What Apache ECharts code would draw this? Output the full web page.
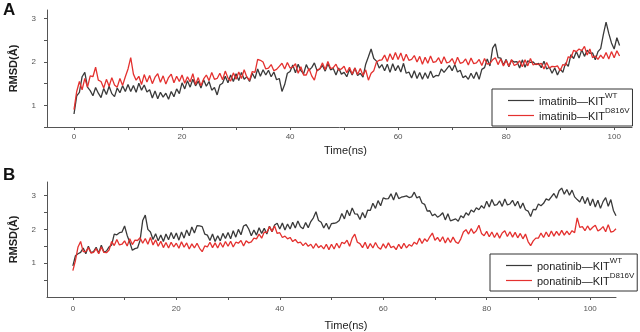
<!DOCTYPE html>
<html>
<head>
<meta charset="utf-8">
<script src="https://cdn.jsdelivr.net/npm/echarts@6/dist/echarts.min.js"></script>
<style>
  html, body { margin: 0; padding: 0; background: #fff; }
  #chart { width: 640px; height: 332px; }
</style>
</head>
<body>
<div id="chart"></div>
<script>
// frame spacing of the trajectories (ns)
const STEP = 0.5

// panel A: imatinib, t = 0 .. 101 ns
const imatinibWT = [
  0.80, 1.22, 1.30, 1.66, 1.76, 1.42, 1.34, 1.22, 1.41, 1.28, 1.18, 1.39, 1.25, 1.44, 1.27, 1.20, 1.40, 1.29, 1.45, 1.32,
  1.48, 1.32, 1.46, 1.30, 1.51, 1.35, 1.47, 1.31, 1.36, 1.17, 1.33, 1.15, 1.30, 1.19, 1.28, 1.14, 1.32, 1.20, 1.38, 1.27,
  1.52, 1.38, 1.57, 1.42, 1.60, 1.45, 1.56, 1.40, 1.59, 1.44, 1.55, 1.35, 1.41, 1.24, 1.47, 1.51, 1.67, 1.52, 1.70, 1.55,
  1.73, 1.57, 1.76, 1.60, 1.66, 1.55, 1.74, 1.62, 1.84, 1.67, 1.82, 1.70, 1.81, 1.66, 1.77, 1.59, 1.62, 1.32, 1.48, 1.74,
  1.78, 1.93, 1.75, 1.95, 1.80, 1.73, 1.94, 1.81, 1.87, 1.98, 1.80, 1.84, 1.92, 1.79, 1.96, 1.82, 1.85, 1.70, 1.86, 1.72,
  1.76, 1.66, 1.83, 1.70, 1.86, 1.69, 1.74, 1.65, 1.95, 2.12, 2.30, 2.08, 2.02, 1.86, 1.94, 1.80, 1.95, 1.76, 1.96, 1.80,
  1.92, 1.77, 1.97, 1.74, 1.77, 1.63, 1.80, 1.62, 1.76, 1.60, 1.75, 1.62, 1.79, 1.64, 1.69, 1.68, 1.84, 1.76, 1.84, 1.92,
  1.80, 1.94, 1.77, 1.81, 1.64, 1.68, 1.60, 1.74, 1.62, 1.77, 1.60, 1.83, 1.87, 2.07, 1.91, 2.32, 2.42, 2.10, 2.09, 1.93,
  2.06, 1.89, 2.04, 2.00, 2.01, 1.86, 2.05, 1.88, 2.03, 1.99, 2.00, 1.94, 1.97, 1.87, 2.02, 1.84, 1.88, 1.74, 1.86, 1.70,
  1.84, 1.76, 1.98, 1.90, 2.17, 2.08, 2.24, 2.09, 2.28, 2.13, 2.27, 2.20, 2.21, 2.05, 2.24, 2.31, 2.64, 2.92, 2.66, 2.44,
  2.30, 2.56, 2.38
]
const imatinibD816V = [
  0.90, 1.32, 1.55, 1.36, 1.62, 1.42, 1.68, 1.66, 1.88, 1.58, 1.55, 1.40, 1.60, 1.44, 1.64, 1.47, 1.42, 1.62, 1.46, 1.66,
  1.84, 2.10, 1.72, 1.58, 1.67, 1.48, 1.71, 1.54, 1.69, 1.50, 1.65, 1.73, 1.53, 1.68, 1.49, 1.64, 1.72, 1.52, 1.67, 1.55,
  1.70, 1.51, 1.66, 1.54, 1.73, 1.48, 1.64, 1.45, 1.61, 1.70, 1.57, 1.76, 1.60, 1.62, 1.74, 1.59, 1.79, 1.63, 1.56, 1.75,
  1.60, 1.77, 1.62, 1.82, 1.65, 1.58, 1.78, 1.76, 2.06, 2.04, 2.00, 1.84, 1.86, 1.94, 1.80, 1.83, 1.90, 1.97, 1.84, 1.99,
  1.86, 1.88, 1.96, 1.74, 1.89, 1.70, 1.70, 1.85, 1.68, 1.58, 1.82, 1.84, 1.98, 1.82, 2.01, 1.85, 1.87, 1.95, 1.81, 1.84,
  1.90, 1.75, 1.88, 1.72, 1.86, 1.71, 1.85, 1.69, 1.82, 1.58, 1.74, 1.80, 2.00, 2.04, 2.05, 2.16, 2.01, 2.19, 2.05, 2.22,
  2.06, 2.21, 2.02, 2.18, 2.04, 2.06, 2.15, 2.00, 2.13, 1.95, 2.11, 1.97, 2.14, 1.99, 2.01, 2.10, 1.96, 2.12, 1.98, 2.00,
  2.08, 1.94, 2.11, 1.97, 1.99, 2.07, 1.93, 2.09, 1.96, 1.98, 2.06, 1.92, 2.08, 1.95, 1.97, 2.05, 2.10, 1.94, 2.07, 1.91,
  2.04, 1.90, 2.06, 1.92, 1.95, 2.03, 1.89, 2.05, 1.91, 2.08, 1.93, 1.96, 1.94, 1.97, 1.84, 1.99, 1.86, 1.90, 1.89, 1.91,
  1.80, 1.94, 1.92, 2.12, 2.10, 2.27, 2.24, 2.30, 2.26, 2.36, 2.16, 2.30, 2.10, 2.14, 2.06, 2.16, 2.08, 2.22, 2.07, 2.24,
  2.10, 2.26, 2.14
]

// panel B: ponatinib, t = 0 .. 105 ns
const ponatinibWT = [
  0.92, 1.22, 1.28, 1.32, 1.45, 1.28, 1.50, 1.31, 1.34, 1.47, 1.30, 1.53, 1.33, 1.36, 1.48, 1.54, 1.86, 1.84, 1.90, 1.92,
  2.10, 1.82, 1.62, 1.38, 1.43, 1.45, 1.68, 2.26, 2.42, 2.00, 1.92, 1.70, 1.87, 1.66, 1.83, 1.64, 1.86, 1.69, 1.91, 1.72,
  1.89, 1.68, 1.92, 1.74, 1.98, 1.81, 2.07, 1.89, 2.11, 2.10, 2.08, 1.86, 1.83, 1.67, 1.86, 1.64, 1.81, 1.66, 1.88, 1.73,
  1.91, 1.72, 1.96, 1.77, 2.00, 1.84, 2.10, 2.14, 2.01, 1.81, 1.98, 1.83, 2.05, 1.88, 2.03, 1.86, 2.09, 1.93, 2.13, 2.18,
  2.01, 2.19, 1.98, 2.16, 2.01, 2.21, 2.04, 2.25, 2.08, 2.02, 2.20, 2.05, 2.23, 2.34, 2.52, 2.26, 2.21, 2.04, 2.18, 2.00,
  2.17, 2.18, 2.20, 2.26, 2.47, 2.31, 2.57, 2.40, 2.63, 2.46, 2.45, 2.29, 2.50, 2.34, 2.57, 2.56, 2.77, 2.62, 2.85, 2.70,
  2.93, 2.90, 2.91, 3.05, 2.87, 3.09, 2.91, 2.95, 2.97, 2.99, 2.94, 2.96, 3.10, 2.93, 2.97, 2.78, 2.74, 2.54, 2.55, 2.40,
  2.45, 2.36, 2.41, 2.49, 2.28, 2.46, 2.25, 2.28, 2.31, 2.24, 2.40, 2.34, 2.49, 2.42, 2.57, 2.51, 2.64, 2.58, 2.70, 2.62,
  2.83, 2.66, 2.88, 2.71, 2.73, 2.84, 2.68, 2.90, 2.72, 2.75, 2.86, 2.69, 2.83, 2.62, 2.78, 2.58, 2.54, 2.38, 2.59, 2.58,
  2.75, 2.70, 2.77, 2.90, 2.86, 2.96, 3.06, 2.92, 3.14, 3.22, 3.04, 3.18, 3.01, 3.16, 2.96, 2.88, 2.81, 2.98, 2.76, 2.94,
  2.70, 2.90, 2.66, 2.86, 2.62, 2.82, 2.94, 2.68, 2.88, 2.56, 2.40
]
const ponatinibD816V = [
  0.78, 1.08, 1.48, 1.64, 1.34, 1.34, 1.46, 1.30, 1.32, 1.43, 1.28, 1.48, 1.32, 1.31, 1.39, 1.64, 1.52, 1.70, 1.54, 1.56,
  1.66, 1.51, 1.72, 1.55, 1.68, 1.67, 1.75, 1.59, 1.73, 1.56, 1.76, 1.54, 1.69, 1.50, 1.65, 1.46, 1.61, 1.45, 1.62, 1.48,
  1.59, 1.44, 1.63, 1.47, 1.60, 1.42, 1.57, 1.45, 1.59, 1.44, 1.34, 1.51, 1.48, 1.62, 1.46, 1.60, 1.45, 1.61, 1.47, 1.64,
  1.50, 1.65, 1.48, 1.62, 1.59, 1.67, 1.51, 1.66, 1.60, 1.63, 1.74, 1.72, 1.86, 1.74, 1.92, 1.91, 2.08, 1.94, 2.10, 1.88,
  1.90, 1.76, 1.80, 1.72, 1.76, 1.64, 1.70, 1.60, 1.62, 1.52, 1.60, 1.50, 1.56, 1.44, 1.58, 1.46, 1.52, 1.42, 1.56, 1.40,
  1.56, 1.42, 1.59, 1.45, 1.62, 1.58, 1.68, 1.50, 1.74, 1.86, 1.62, 1.58, 1.46, 1.62, 1.43, 1.58, 1.45, 1.61, 1.47, 1.41,
  1.57, 1.44, 1.60, 1.46, 1.50, 1.40, 1.56, 1.43, 1.59, 1.45, 1.55, 1.50, 1.62, 1.56, 1.74, 1.58, 1.72, 1.64, 1.78, 1.89,
  1.68, 1.76, 1.64, 1.78, 1.60, 1.75, 1.61, 1.77, 1.63, 1.58, 1.72, 1.92, 1.99, 1.86, 2.02, 1.88, 1.96, 2.12, 1.88, 1.81,
  1.94, 1.78, 1.92, 1.76, 1.90, 1.74, 1.89, 1.96, 1.79, 1.93, 1.77, 1.91, 1.75, 1.88, 1.72, 1.86, 1.64, 1.52, 1.66, 1.74,
  1.74, 1.89, 1.76, 1.92, 1.78, 1.95, 1.80, 1.94, 1.82, 1.97, 1.83, 1.95, 1.84, 1.96, 1.90, 2.34, 2.06, 2.08, 1.96, 2.10,
  1.98, 2.06, 2.12, 1.95, 2.00, 2.08, 1.93, 2.14, 1.92, 1.94, 2.02
]

// axis ticks and labels
const timeTicks = [0, 10, 20, 30, 40, 50, 60, 70, 80, 90, 100]
const timeLabels = [0, 20, 40, 60, 80, 100]
const rmsdTicks = [0.5, 1, 1.5, 2, 2.5, 3]
const rmsdLabels = [1, 2, 3]

const FONT = '"Liberation Sans", Arial, sans-serif'
const BLACK = '#3a3a3a'
const RED = '#e4312f'

const toPairs = vals => vals.map((v, i) => [i * STEP, v])

const legendNames = {
  'imatinib WT': '{n|imatinib—KIT}{s|WT}',
  'imatinib D816V': '{n|imatinib—KIT}{s|D816V}',
  'ponatinib WT': '{n|ponatinib—KIT}{s|WT}',
  'ponatinib D816V': '{n|ponatinib—KIT}{s|D816V}'
}

function xAxisFor(gridIndex, max, labelMargin, nameGap, nameShift) {
  return {
    type: 'value',
    gridIndex,
    min: -5,
    max,
    name: 'Time(ns)',
    nameLocation: 'middle',
    nameGap,
    nameTextStyle: { fontFamily: FONT, fontSize: 11, color: '#222', padding: [0, 0, 0, nameShift] },
    axisLine: { onZero: false, lineStyle: { color: '#555', width: 1 } },
    axisTick: { customValues: timeTicks, length: 3, lineStyle: { color: '#555' } },
    axisLabel: { customValues: timeLabels, fontFamily: FONT, fontSize: 8, color: '#555', margin: labelMargin },
    splitLine: { show: false }
  }
}

function yAxisFor(gridIndex, min, max) {
  return {
    type: 'value',
    gridIndex,
    min,
    max,
    name: 'RMSD(Å)',
    nameLocation: 'middle',
    nameGap: 28,
    nameTextStyle: { fontFamily: FONT, fontSize: 11, fontWeight: 'bold', color: '#222' },
    axisLine: { show: true, onZero: false, lineStyle: { color: '#555', width: 1 } },
    axisTick: { customValues: rmsdTicks, length: 3, lineStyle: { color: '#555' } },
    axisLabel: { customValues: rmsdLabels, fontFamily: FONT, fontSize: 8, color: '#555', margin: 11 },
    splitLine: { show: false }
  }
}

function legendFor(left, top, data) {
  return {
    left,
    top,
    orient: 'vertical',
    data,
    icon: 'rect',
    backgroundColor: '#fff',
    borderColor: '#333',
    borderWidth: 1,
    padding: [3, 3, 4, 16],
    itemGap: 0,
    itemWidth: 26,
    itemHeight: 1.2,
    formatter: name => legendNames[name],
    textStyle: {
      fontFamily: FONT,
      rich: {
        n: { fontFamily: FONT, fontSize: 11, color: '#222', lineHeight: 13, verticalAlign: 'bottom' },
        s: { fontFamily: FONT, fontSize: 8, color: '#222', lineHeight: 13, verticalAlign: 'bottom', padding: [0, 0, 7, 0] }
      }
    }
  }
}

function lineSeries(name, color, axis, vals) {
  return {
    name,
    type: 'line',
    xAxisIndex: axis,
    yAxisIndex: axis,
    symbol: 'none',
    sampling: false,
    data: toPairs(vals),
    lineStyle: { color, width: 1.3 },
    itemStyle: { color }
  }
}

const chart = echarts.init(document.getElementById('chart'), null, { renderer: 'canvas' })

chart.setOption({
  animation: false,
  backgroundColor: '#fff',
  title: [
    { text: 'A', left: 3, top: 2, padding: 0, textStyle: { fontFamily: FONT, fontSize: 17, fontWeight: 'bold', color: '#111' } },
    { text: 'B', left: 3, top: 167, padding: 0, textStyle: { fontFamily: FONT, fontSize: 17, fontWeight: 'bold', color: '#111' } }
  ],
  grid: [
    { left: 42, right: 8, top: 10, height: 117 },
    { left: 41, right: 24, top: 182, height: 116 }
  ],
  xAxis: [
    xAxisFor(0, 103.3, 6, 18, 12),
    xAxisFor(1, 105, 8, 23, 29)
  ],
  yAxis: [
    yAxisFor(0, 0.5, 3.2),
    yAxisFor(1, 0, 3.4)
  ],
  legend: [
    legendFor(492, 89, ['imatinib WT', 'imatinib D816V']),
    legendFor(490, 254, ['ponatinib WT', 'ponatinib D816V'])
  ],
  series: [
    lineSeries('imatinib WT', BLACK, 0, imatinibWT),
    lineSeries('imatinib D816V', RED, 0, imatinibD816V),
    lineSeries('ponatinib WT', BLACK, 1, ponatinibWT),
    lineSeries('ponatinib D816V', RED, 1, ponatinibD816V)
  ]
})
</script>
</body>
</html>
